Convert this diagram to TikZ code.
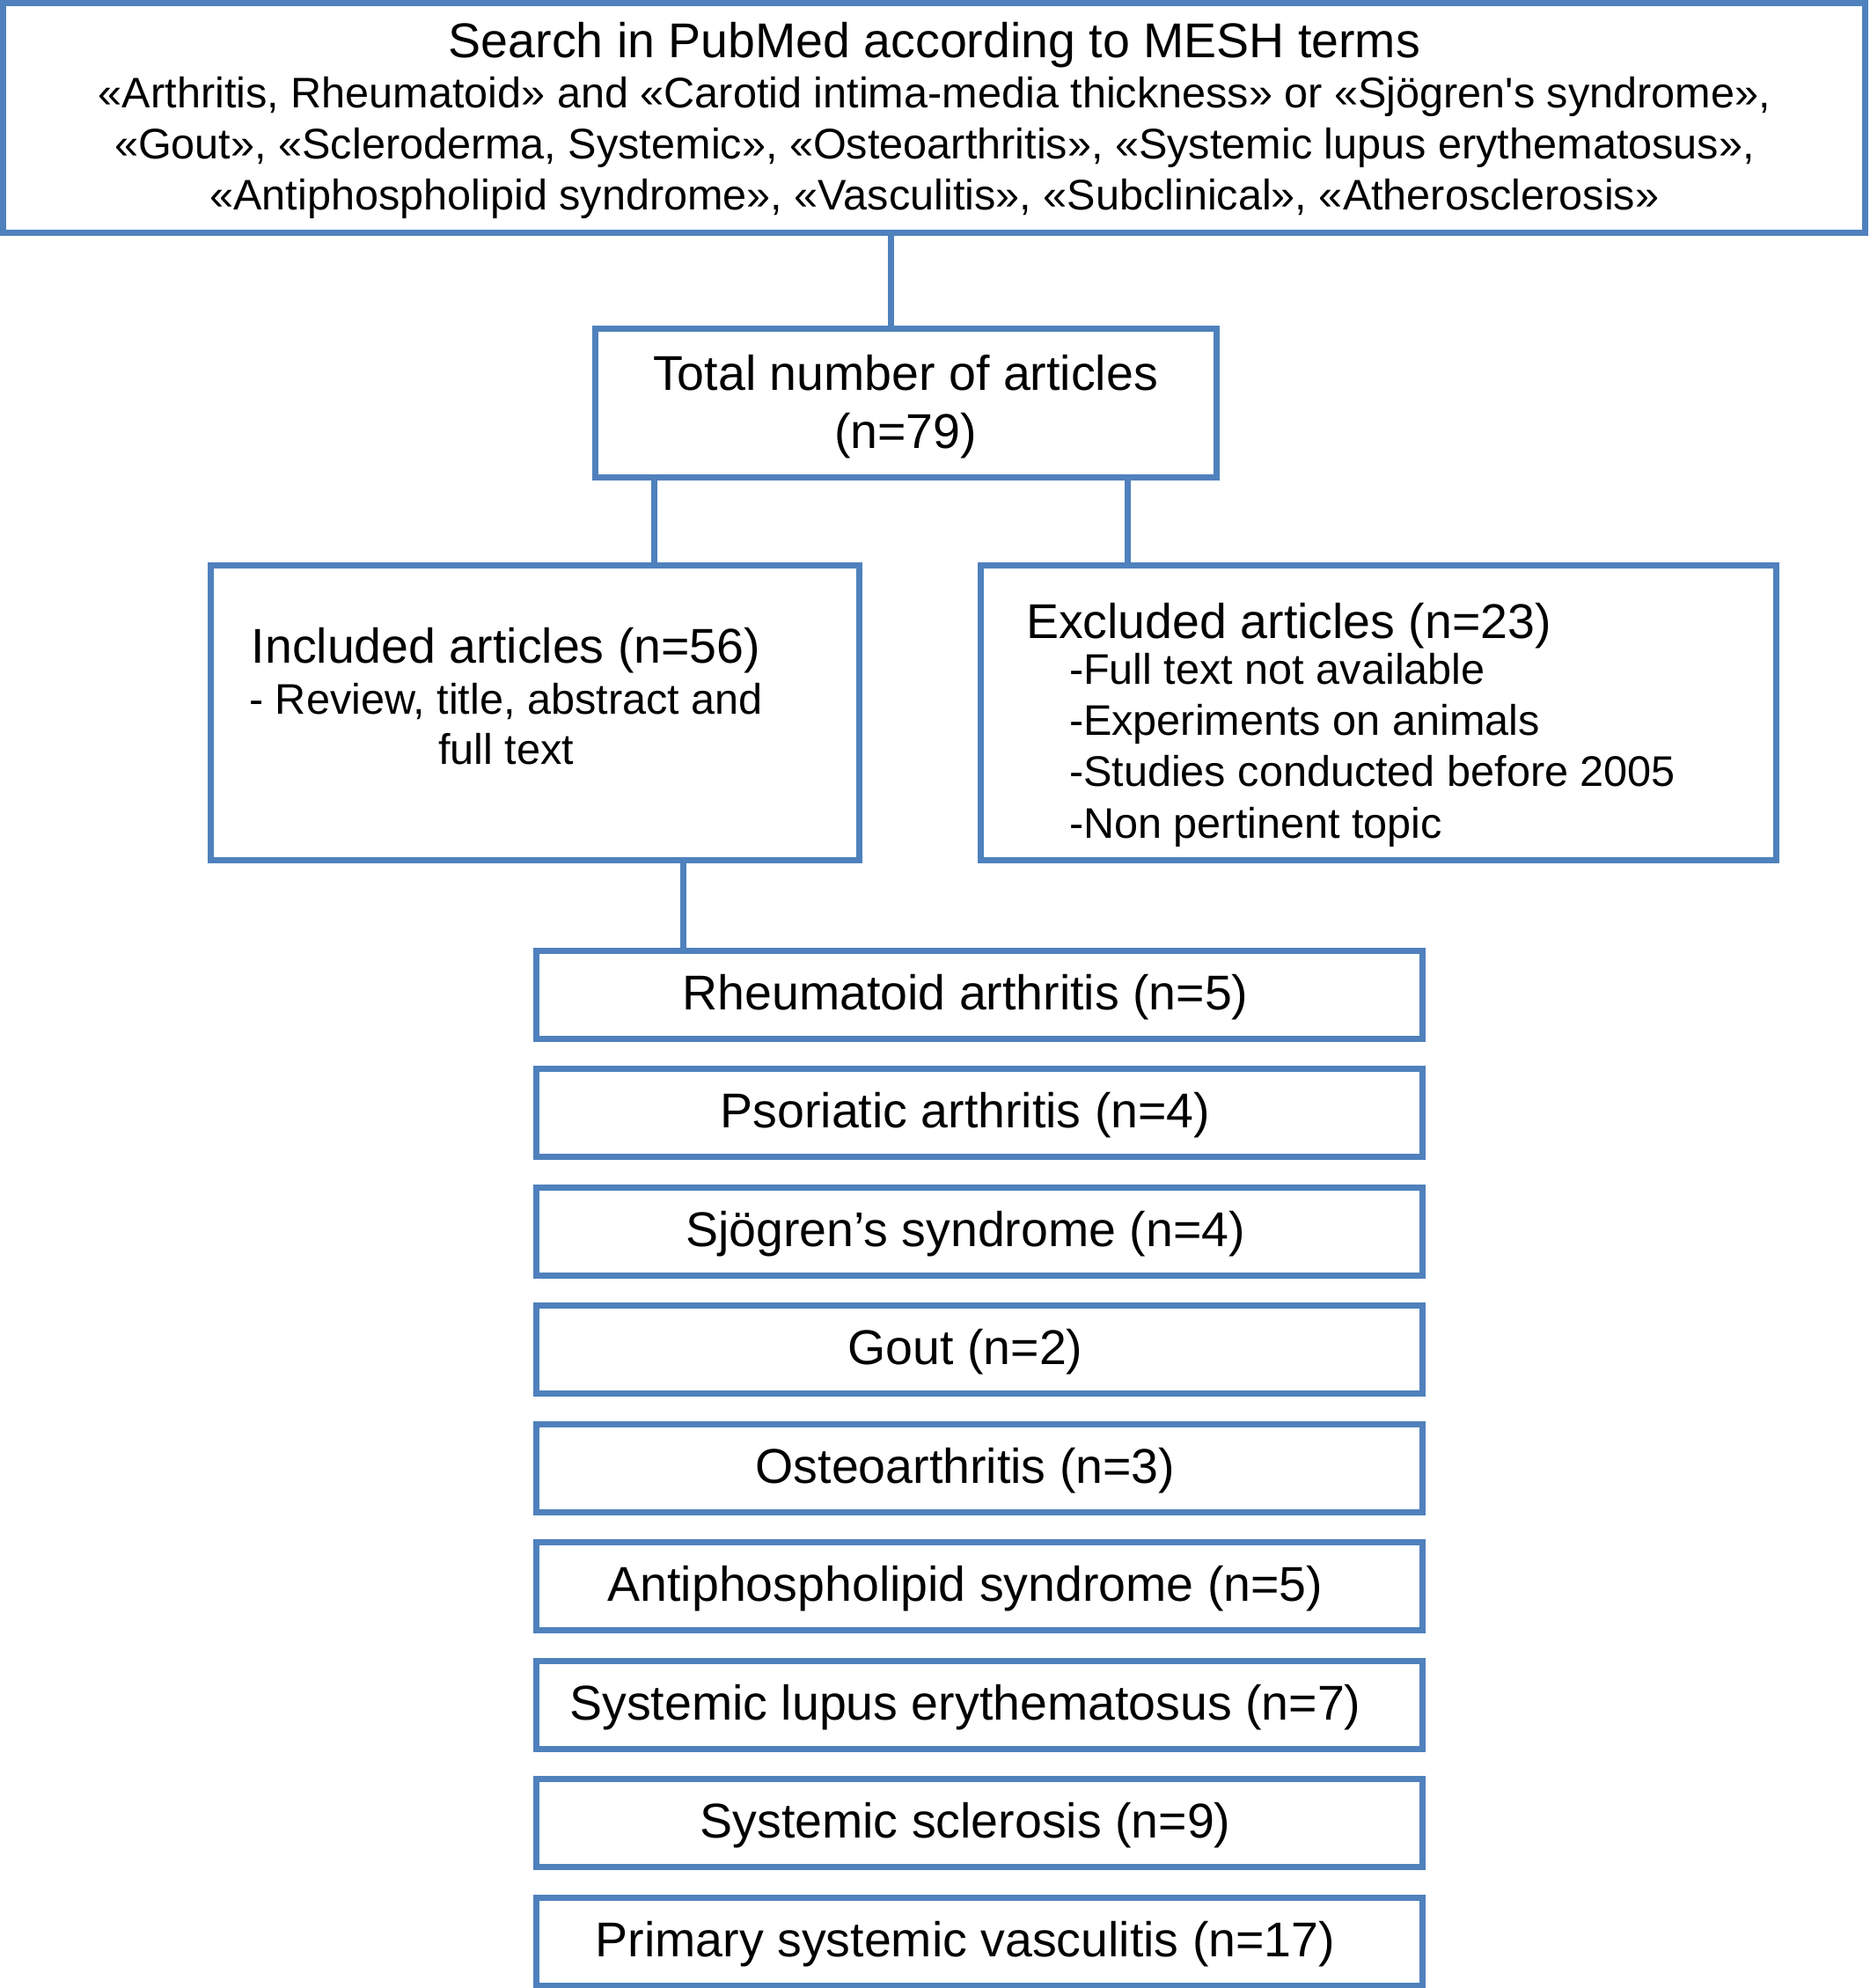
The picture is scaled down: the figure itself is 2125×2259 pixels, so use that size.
\documentclass[tikz,border=0pt]{standalone}
\usepackage{fontspec}
\setmainfont{Liberation Sans}[Ligatures=TeXOff]
\definecolor{bl}{RGB}{79,129,189}
\begin{document}
\begin{tikzpicture}[x=1pt,y=-1pt,
  box/.style={draw=bl, line width=7pt, inner sep=0pt, outer sep=0pt},
  big/.style={font=\fontsize{55.5pt}{66pt}\selectfont, inner sep=0pt, outer sep=0pt, anchor=base},
  small/.style={font=\fontsize{48.6pt}{58pt}\selectfont, inner sep=0pt, outer sep=0pt, anchor=base},
  conn/.style={draw=bl, line width=7pt}]
\useasboundingbox (0,0) rectangle (2125,2259);
% boxes
\node[box, minimum width=2116pt, minimum height=261pt] (top) at (1061,134) {};
\node[box, minimum width=706pt, minimum height=169pt] (total) at (1029,457.5) {};
\node[box, minimum width=737pt, minimum height=335pt] (incl) at (607.5,809.5) {};
\node[box, minimum width=904pt, minimum height=335pt] (excl) at (1566,810) {};
% top box text
\node[big] (t0) at (1062,65) {Search in PubMed according to MESH terms};
\node[small] (t1) at (1062,122) {«Arthritis, Rheumatoid» and «Carotid intima-media thickness» or «Sjögren's syndrome»,};
\node[small] (t2) at (1062,180) {«Gout», «Scleroderma, Systemic», «Osteoarthritis», «Systemic lupus erythematosus»,};
\node[small] (t3) at (1062,238) {«Antiphospholipid syndrome», «Vasculitis», «Subclinical», «Atherosclerosis»};
% total
\node[big] (tt1) at (1029,443) {Total number of articles};
\node[big] (tt2) at (1029,509) {(n=79)};
% included
\node[big] (it1) at (575,753) {Included articles (n=56)};
\node[small] (it2) at (575,811) {- Review, title, abstract and};
\node[small] (it3) at (575,868) {full text};
% excluded
\node[big, anchor=base west] (et0) at (1166,725) {Excluded articles (n=23)};
\node[small, anchor=base west] (et1) at (1215,777) {-Full text not available};
\node[small, anchor=base west] (et2) at (1215,835) {-Experiments on animals};
\node[small, anchor=base west] (et3) at (1215,893) {-Studies conducted before 2005};
\node[small, anchor=base west] (et4) at (1215,952) {-Non pertinent topic};
% list
\foreach \i/\t in {1/{Rheumatoid arthritis (n=5)},
                   2/{Psoriatic arthritis (n=4)},
                   3/{Sjögren’s syndrome (n=4)},
                   4/{Gout (n=2)},
                   5/{Osteoarthritis (n=3)},
                   6/{Antiphospholipid syndrome (n=5)},
                   7/{Systemic lupus erythematosus (n=7)},
                   8/{Systemic sclerosis (n=9)},
                   9/{Primary systemic vasculitis (n=17)}} {
  \node[box, minimum width=1007pt, minimum height=100pt] (d\i) at (1112.5,{1130+134.5*(\i-1)}) {};
  \node[big] (dt\i) at (1097,{1147+134.5*(\i-1)}) {\t};
}
% connectors
\coordinate (k1) at (1012,0);
\coordinate (k2) at (743,0);
\coordinate (k3) at (1281,0);
\coordinate (k4) at (776,0);
\draw[conn] (top.south -| k1) -- (total.north -| k1);
\draw[conn] (total.south -| k2) -- (incl.north -| k2);
\draw[conn] (total.south -| k3) -- (excl.north -| k3);
\draw[conn] (incl.south -| k4) -- (d1.north -| k4);
\end{tikzpicture}
\end{document}
